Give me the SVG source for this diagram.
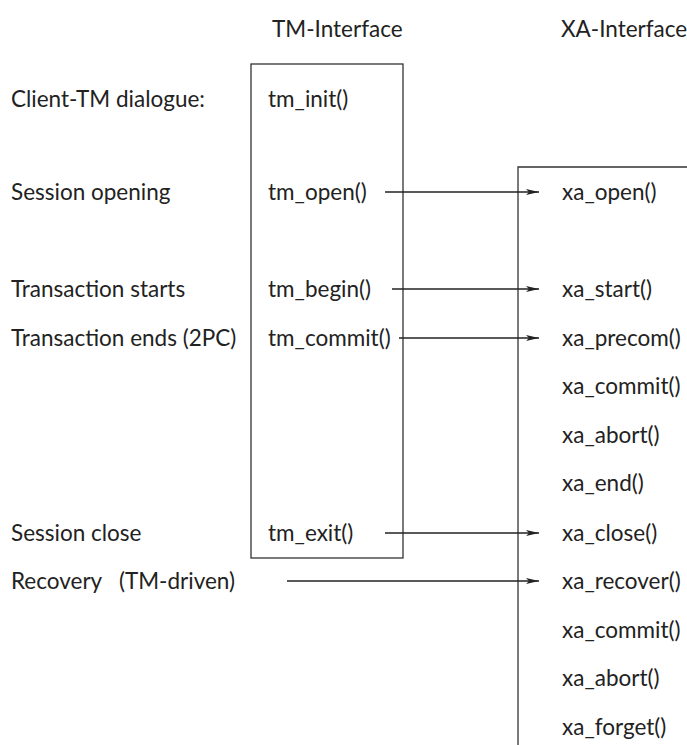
<svg xmlns="http://www.w3.org/2000/svg" width="687" height="745" viewBox="0 0 687 745">
<style>
text { font-family: Lato, "Liberation Sans", sans-serif; font-size: 22.5px; fill: #222; }
.box { fill: none; stroke: #333; stroke-width: 1.3; }
.conn line { stroke: #222; stroke-width: 1.3; }
</style>
<defs>
<marker id="arr" markerWidth="14" markerHeight="8" refX="13" refY="4" orient="auto" markerUnits="userSpaceOnUse">
<path d="M0,1 L13,4 L0,7 L3,4 Z" fill="#222"/>
</marker>
</defs>
<rect width="687" height="745" fill="#fff"/>
<g id="headers">
<text x="272" y="37">TM-Interface</text>
<text x="561" y="37">XA-Interface</text>
</g>
<g id="labels">
<text x="11" y="107">Client-TM dialogue:</text>
<text x="11" y="200">Session opening</text>
<text x="11" y="297">Transaction starts</text>
<text x="11" y="346">Transaction ends (2PC)</text>
<text x="11" y="541">Session close</text>
<text x="11" y="589" xml:space="preserve">Recovery   (TM-driven)</text>
</g>
<g id="tm-interface">
<rect class="box" x="251" y="64" width="152" height="494"/>
<text x="268" y="107">tm_init()</text>
<text x="268" y="200">tm_open()</text>
<text x="268" y="297">tm_begin()</text>
<text x="268" y="346">tm_commit()</text>
<text x="268" y="541">tm_exit()</text>
</g>
<g id="xa-interface">
<path class="box" d="M518,745 V167 H688"/>
<text x="562" y="200">xa_open()</text>
<text x="562" y="297">xa_start()</text>
<text x="562" y="346">xa_precom()</text>
<text x="562" y="394">xa_commit()</text>
<text x="562" y="443">xa_abort()</text>
<text x="562" y="491">xa_end()</text>
<text x="562" y="541">xa_close()</text>
<text x="562" y="589">xa_recover()</text>
<text x="562" y="638">xa_commit()</text>
<text x="562" y="686">xa_abort()</text>
<text x="562" y="735">xa_forget()</text>
</g>
<g id="connectors" class="conn">
<line x1="385" y1="192" x2="539" y2="192" marker-end="url(#arr)"/>
<line x1="392" y1="289" x2="539" y2="289" marker-end="url(#arr)"/>
<line x1="399" y1="338" x2="539" y2="338" marker-end="url(#arr)"/>
<line x1="385" y1="533" x2="539" y2="533" marker-end="url(#arr)"/>
<line x1="287" y1="581" x2="539" y2="581" marker-end="url(#arr)"/>
</g>
</svg>
